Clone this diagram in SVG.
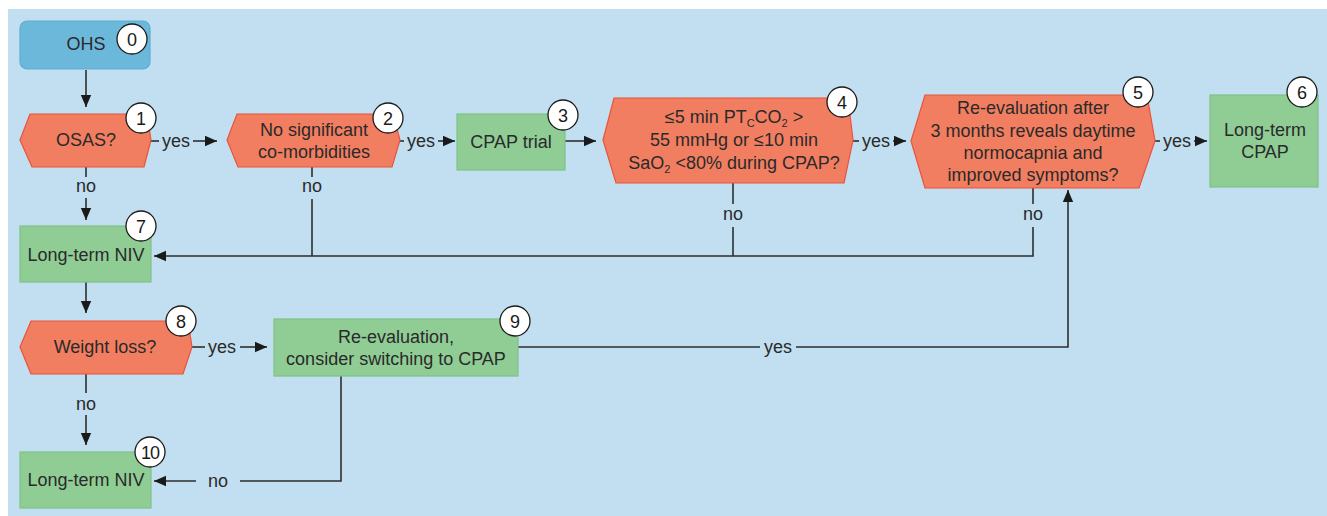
<svg xmlns="http://www.w3.org/2000/svg" width="1327" height="516" viewBox="0 0 1327 516">
<style>
.t{font-family:"Liberation Sans",Arial,sans-serif;font-size:18px;fill:#2a2a2a;text-anchor:middle}
.l{font-family:"Liberation Sans",Arial,sans-serif;font-size:18px;fill:#2a2a2a;text-anchor:middle}
.n{font-family:"Liberation Sans",Arial,sans-serif;font-size:18px;fill:#1a1a1a;text-anchor:middle}
.red{fill:#f27e61;stroke:#e9523c;stroke-width:1.2}
.grn{fill:#8fcd95;stroke:#7fc287;stroke-width:1.2}
.blu{fill:#6cb8da;stroke:#5eafd5;stroke-width:1.2}
.c{fill:#fff;stroke:#1a1a1a;stroke-width:1.3}
.w{fill:none;stroke:#2e2e2e;stroke-width:1.6}
</style>
<defs>
<marker id="ah" markerUnits="userSpaceOnUse" markerWidth="12" markerHeight="12" viewBox="0 0 12 12" refX="12" refY="6" orient="auto">
<path d="M0,0.8 L12,6 L0,11.2 Z" fill="#1a1a1a"/>
</marker>
</defs>
<rect x="8" y="9" width="1319" height="507" fill="#c1dff0"/>

<g id="connectors">
<path class="w" d="M86,70 V107" marker-end="url(#ah)"/>
<path class="w" d="M151,141 H159"/><text class="l" x="176" y="147">yes</text>
<path class="w" d="M193,141 H217" marker-end="url(#ah)"/>
<path class="w" d="M400,141 H404"/><text class="l" x="421" y="147">yes</text>
<path class="w" d="M438,141 H455" marker-end="url(#ah)"/>
<path class="w" d="M565,141 H596" marker-end="url(#ah)"/>
<path class="w" d="M853,141 H859"/><text class="l" x="876" y="147">yes</text>
<path class="w" d="M893,141 H906" marker-end="url(#ah)"/>
<path class="w" d="M1155,141 H1160"/><text class="l" x="1177" y="147">yes</text>
<path class="w" d="M1194,141 H1207" marker-end="url(#ah)"/>
<path class="w" d="M86,167 V177"/><text class="l" x="86" y="192">no</text>
<path class="w" d="M86,198 V220" marker-end="url(#ah)"/>
<path class="w" d="M312,167 V177"/><text class="l" x="312" y="192">no</text>
<path class="w" d="M312,199 V256"/>
<path class="w" d="M733,183 V204"/><text class="l" x="733" y="220">no</text>
<path class="w" d="M733,227 V256"/>
<path class="w" d="M1033,188 V204"/><text class="l" x="1033" y="220">no</text>
<path class="w" d="M1033,227 V256 H154" marker-end="url(#ah)"/>
<path class="w" d="M86,282 V313" marker-end="url(#ah)"/>
<path class="w" d="M192,347 H205"/><text class="l" x="222" y="353">yes</text>
<path class="w" d="M240,347 H267" marker-end="url(#ah)"/>
<path class="w" d="M86,374 V393"/><text class="l" x="86" y="410">no</text>
<path class="w" d="M86,415 V445" marker-end="url(#ah)"/>
<path class="w" d="M341,376 V481 H240"/><text class="l" x="218" y="487">no</text>
<path class="w" d="M196,481 H154" marker-end="url(#ah)"/>
<path class="w" d="M518,347 H760"/><text class="l" x="778" y="353">yes</text>
<path class="w" d="M796,347 H1068 V190" marker-end="url(#ah)"/>
</g>

<g id="node0">
<rect class="blu" x="20" y="21" width="130" height="48" rx="7"/>
<text class="t" x="86" y="50">OHS</text>
<circle class="c" cx="132" cy="39" r="15"/><text class="n" x="132" y="45.5">0</text>
</g>
<g id="node1">
<polygon class="red" points="30,114 147,114 151,140 144,167 32,167 20,140"/>
<text class="t" x="86" y="146">OSAS?</text>
<circle class="c" cx="141" cy="118" r="15"/><text class="n" x="141" y="124.5">1</text>
</g>
<g id="node2">
<polygon class="red" points="237,114 393,114 400,140 392,167 238,167 227,140"/>
<text class="t" x="314" y="136">No significant</text>
<text class="t" x="314" y="158">co-morbidities</text>
<circle class="c" cx="388" cy="118" r="15"/><text class="n" x="388" y="124.5">2</text>
</g>
<g id="node3">
<rect class="grn" x="457" y="114" width="108" height="56"/>
<text class="t" x="511" y="148">CPAP trial</text>
<circle class="c" cx="563" cy="115" r="15"/><text class="n" x="563" y="121.5">3</text>
</g>
<g id="node4">
<polygon class="red" points="614,98 848,98 853,140 844,183 616,183 603,140"/>
<text class="t" x="734" y="123">≤5 min PT<tspan font-size="11" dy="4">C</tspan><tspan dy="-4">CO</tspan><tspan font-size="11" dy="4">2</tspan><tspan dy="-4"> &gt;</tspan></text>
<text class="t" x="734" y="146">55 mmHg or ≤10 min</text>
<text class="t" x="734" y="169">SaO<tspan font-size="11" dy="4">2</tspan><tspan dy="-4"> &lt;80% during CPAP?</tspan></text>
<circle class="c" cx="842" cy="102" r="15"/><text class="n" x="842" y="108.5">4</text>
</g>
<g id="node5">
<polygon class="red" points="925,95 1147,95 1155,141 1139,188 925,188 911,141"/>
<text class="t" x="1033" y="114">Re-evaluation after</text>
<text class="t" x="1033" y="137">3 months reveals daytime</text>
<text class="t" x="1033" y="159">normocapnia and</text>
<text class="t" x="1033" y="181">improved symptoms?</text>
<circle class="c" cx="1138" cy="92" r="15"/><text class="n" x="1138" y="98.5">5</text>
</g>
<g id="node6">
<rect class="grn" x="1210" y="95" width="108" height="92"/>
<text class="t" x="1265" y="136">Long-term</text>
<text class="t" x="1265" y="158">CPAP</text>
<circle class="c" cx="1302" cy="92" r="15"/><text class="n" x="1302" y="98.5">6</text>
</g>
<g id="node7">
<rect class="grn" x="20" y="226" width="131" height="56"/>
<text class="t" x="86" y="261">Long-term NIV</text>
<circle class="c" cx="141" cy="226" r="15"/><text class="n" x="141" y="232.5">7</text>
</g>
<g id="node8">
<polygon class="red" points="31,321 188,321 192,347 183,374 31,374 20,347"/>
<text class="t" x="105" y="353">Weight loss?</text>
<circle class="c" cx="181" cy="321" r="15"/><text class="n" x="181" y="327.5">8</text>
</g>
<g id="node9">
<rect class="grn" x="274" y="319" width="244" height="57"/>
<text class="t" x="396" y="343">Re-evaluation,</text>
<text class="t" x="396" y="365">consider switching to CPAP</text>
<circle class="c" cx="515" cy="321" r="15"/><text class="n" x="515" y="327.5">9</text>
</g>
<g id="node10">
<rect class="grn" x="20" y="452" width="131" height="56"/>
<text class="t" x="86" y="486">Long-term NIV</text>
<circle class="c" cx="150" cy="452" r="15"/><text class="n" x="150" y="458.5" letter-spacing="-1">10</text>
</g>
</svg>
